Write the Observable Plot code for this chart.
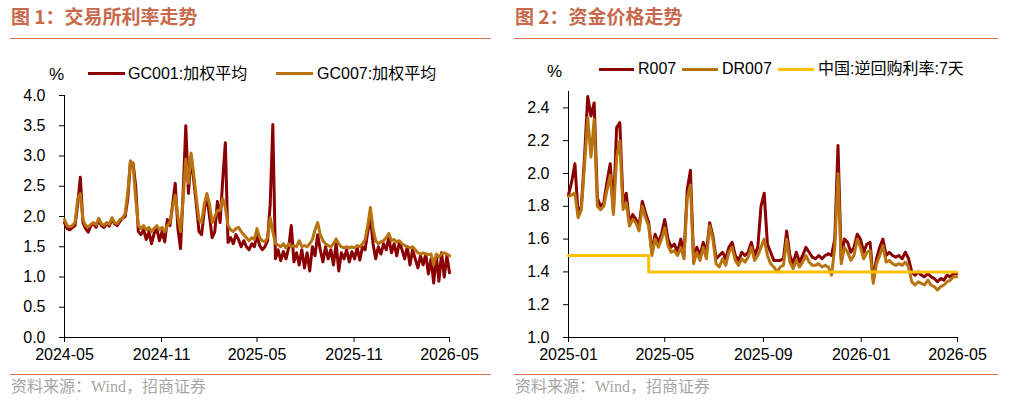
<!DOCTYPE html>
<html><head><meta charset="utf-8">
<script src="https://cdn.jsdelivr.net/npm/d3@7"></script>
<script src="https://cdn.jsdelivr.net/npm/@observablehq/plot@0.6"></script>
<style>
body{margin:0;width:1009px;height:404px;position:relative;background:#fff;overflow:hidden;font-family:"Liberation Sans","Noto Sans CJK SC",sans-serif;}
.abs{position:absolute;white-space:nowrap;}
.title{font-family:"Noto Sans CJK SC",sans-serif;font-weight:bold;font-size:19px;color:#C8694B;line-height:22px;}
.rule{position:absolute;height:1px;background:#D4775A;}
.src{font-family:"Liberation Serif","Noto Sans CJK SC",serif;font-size:16px;color:#A6A6A6;line-height:18px;}
.leg{font-size:16px;line-height:20px;color:#000;font-family:"Liberation Sans","Noto Sans CJK SC",sans-serif;}
.pct{font-size:17px;line-height:20px;color:#000;}
</style>
</head><body>
<div id="root"></div>
<script>
// ---------- Data ----------
// Chart 1: exchange repo rates, sampled every 5 days from 2024-05-01
const gcStart = "2024-05-01";
const gcStepDays = 5;
const gc001 = [
1.9,1.8,1.78,1.82,1.85,2.2,2.65,1.9,1.8,1.74,
1.85,1.88,1.82,1.95,1.85,1.82,1.88,1.84,1.95,1.88,
1.85,1.92,1.97,2.0,2.3,2.9,2.88,2.5,1.75,1.7,
1.78,1.62,1.75,1.55,1.72,1.8,1.6,1.75,1.58,1.95,
1.85,2.2,2.55,1.8,1.47,2.4,3.5,2.38,3.0,2.6,
2.2,1.75,1.7,2.1,2.35,2.0,1.65,1.75,2.25,1.9,
2.6,3.22,1.57,1.65,1.55,1.7,1.62,1.5,1.6,1.5,
1.45,1.55,1.5,1.7,1.52,1.45,1.5,1.6,2.2,3.52,
1.3,1.45,1.27,1.42,1.3,1.48,1.85,1.25,1.4,1.2,
1.45,1.15,1.4,1.1,1.5,1.35,1.7,1.45,1.25,1.5,
1.3,1.45,1.2,1.55,1.1,1.4,1.3,1.45,1.25,1.42,
1.3,1.48,1.28,1.5,1.45,1.75,2.0,1.55,1.3,1.5,
1.38,1.55,1.45,1.65,1.4,1.55,1.35,1.58,1.45,1.3,
1.5,1.2,1.45,1.3,1.15,1.35,1.2,1.38,1.05,1.3,
0.9,1.35,0.93,1.4,1.0,1.35,1.07
];
const gc007 = [
1.95,1.85,1.83,1.85,1.9,2.3,2.38,1.95,1.85,1.83,
1.87,1.9,1.86,1.97,1.88,1.85,1.9,1.87,1.98,1.9,
1.88,1.95,1.97,2.05,2.4,2.92,2.85,2.3,1.85,1.8,
1.85,1.78,1.82,1.75,1.8,1.85,1.78,1.82,1.75,1.85,
1.9,2.15,2.35,2.0,1.75,2.3,2.95,2.55,3.05,2.7,
2.3,1.95,1.9,2.2,2.38,2.2,1.9,2.0,2.1,2.1,
2.3,2.15,1.85,1.78,1.75,1.8,1.82,1.75,1.7,1.65,
1.6,1.65,1.62,1.8,1.65,1.6,1.58,1.65,1.98,1.75,
1.55,1.53,1.5,1.55,1.48,1.55,1.5,1.52,1.5,1.6,
1.5,1.52,1.5,1.55,1.62,1.78,1.9,1.7,1.6,1.55,
1.52,1.5,1.55,1.63,1.55,1.5,1.48,1.5,1.48,1.5,
1.48,1.52,1.5,1.55,1.62,1.85,2.15,1.8,1.6,1.55,
1.58,1.6,1.65,1.72,1.6,1.62,1.58,1.6,1.55,1.52,
1.5,1.48,1.5,1.45,1.4,1.38,1.4,1.38,1.37,1.38,
1.2,1.38,1.33,1.38,1.4,1.38,1.35
];
const gcTicks = ["2024-05","2024-11","2025-05","2025-11","2026-05"];
const gcYTicks = [0,0.5,1,1.5,2,2.5,3,3.5,4];

// Chart 2: money market rates, sampled every 4 days from 2025-01-01
const rStart = "2025-01-01";
const rStepDays = 4;
const r007 = [
1.87,1.95,2.06,1.75,1.8,2.1,2.47,2.35,2.43,1.85,
1.8,1.82,1.95,2.06,1.77,2.28,2.31,1.82,1.88,1.7,
1.75,1.72,1.68,1.83,1.76,1.7,1.52,1.63,1.58,1.63,
1.72,1.6,1.55,1.57,1.52,1.6,1.5,1.9,2.02,1.47,
1.55,1.5,1.58,1.52,1.7,1.62,1.48,1.5,1.52,1.48,
1.55,1.58,1.5,1.47,1.52,1.5,1.52,1.58,1.5,1.55,
1.8,1.88,1.57,1.52,1.47,1.47,1.47,1.48,1.65,1.5,
1.45,1.52,1.46,1.5,1.55,1.52,1.49,1.48,1.5,1.48,
1.5,1.51,1.5,1.6,2.17,1.48,1.6,1.58,1.52,1.55,
1.63,1.6,1.52,1.57,1.58,1.35,1.48,1.55,1.6,1.5,
1.52,1.5,1.49,1.5,1.48,1.52,1.48,1.4,1.38,1.4,
1.38,1.37,1.39,1.37,1.36,1.34,1.36,1.35,1.38,1.37,
1.39,1.39
];
const dr007 = [
1.86,1.87,1.88,1.73,1.78,2.05,2.34,2.1,2.33,1.8,
1.78,1.8,1.9,1.99,1.75,2.1,2.2,1.78,1.82,1.68,
1.72,1.7,1.65,1.8,1.73,1.68,1.5,1.6,1.55,1.6,
1.67,1.56,1.52,1.53,1.5,1.55,1.48,1.85,1.93,1.45,
1.52,1.47,1.55,1.48,1.68,1.6,1.45,1.43,1.48,1.44,
1.52,1.55,1.47,1.44,1.48,1.46,1.49,1.55,1.47,1.5,
1.55,1.6,1.5,1.45,1.43,1.4,1.43,1.44,1.6,1.46,
1.42,1.47,1.43,1.46,1.5,1.46,1.44,1.44,1.45,1.43,
1.44,1.43,1.38,1.55,2.0,1.45,1.55,1.52,1.47,1.5,
1.6,1.55,1.48,1.52,1.53,1.33,1.45,1.5,1.56,1.46,
1.47,1.45,1.44,1.45,1.44,1.46,1.43,1.34,1.32,1.34,
1.33,1.32,1.35,1.32,1.31,1.29,1.31,1.32,1.34,1.35,
1.37,1.37
];
const repoDates = ["2025-01-01","2025-04-11","2026-04-30"];
const repo7d = [1.5,1.4,1.4];
const rTicks = ["2025-01","2025-05","2025-09","2026-01","2026-05"];
const rYTicks = [1.0,1.2,1.4,1.6,1.8,2.0,2.2,2.4];

// ---------- Helpers ----------
const parseDay = d3.utcParse("%Y-%m-%d");
const parseMonth = d3.utcParse("%Y-%m");
const fmtMonth = d3.utcFormat("%Y-%m");
function series(startStr, step, values) {
  const s = parseDay(startStr);
  return values.map((v, i) => ({date: d3.utcDay.offset(s, i * step), value: v}));
}
const C_RED = "#8B0000", C_ORANGE = "#B8720E", C_YELLOW = "#FFC000";
function el(cls, x, y, html, extra) {
  const d = document.createElement("div");
  d.className = "abs " + cls;
  d.style.left = x + "px"; d.style.top = y + "px";
  d.innerHTML = html;
  if (extra) Object.assign(d.style, extra);
  document.body.appendChild(d);
  return d;
}
function rule(x1, x2, y) {
  const d = document.createElement("div");
  d.className = "rule";
  d.style.left = x1 + "px"; d.style.top = y + "px"; d.style.width = (x2 - x1) + "px";
  document.body.appendChild(d);
}
function legendLine(x, y, w, color) {
  el("", x, y - 1.5, "", {width: w + "px", height: "3px", background: color});
}

// ---------- Page furniture ----------
el("title", 11, 5, "图 1：交易所利率走势");
el("title", 515, 5, "图 2：资金价格走势");
rule(10, 491, 38); rule(514, 998, 38);
rule(10, 491, 374); rule(514, 998, 374);
el("src", 11, 378, "资料来源：Wind，招商证券");
el("src", 515, 378, "资料来源：Wind，招商证券");

el("pct", 49, 65, "%");
legendLine(88, 73, 37, C_RED);   el("leg", 128, 64, "GC001:加权平均");
legendLine(276, 73, 37, C_ORANGE); el("leg", 317, 64, "GC007:加权平均");

el("pct", 547, 62, "%");
legendLine(599, 69, 35, C_RED);    el("leg", 638, 59, "R007");
legendLine(682, 69, 36, C_ORANGE); el("leg", 722, 59, "DR007");
legendLine(778, 69, 36, C_YELLOW); el("leg", 818, 59, "中国:逆回购利率:7天");

// ---------- Charts ----------
const common = {
  style: {fontFamily: "Liberation Sans, sans-serif", fontSize: "16px", color: "#000", background: "transparent", overflow: "visible"}
};

const g1 = series(gcStart, gcStepDays, gc001);
const g7 = series(gcStart, gcStepDays, gc007);
const x1Domain = [parseMonth(gcTicks[0]), parseMonth(gcTicks[gcTicks.length - 1])];
const chart1 = Plot.plot({
  ...common,
  width: 500, height: 285,
  marginLeft: 64, marginRight: 51, marginTop: 10, marginBottom: 33,
  x: {type: "utc", domain: x1Domain},
  y: {domain: [0, 4]},
  marks: [
    Plot.axisY({ticks: gcYTicks, tickSize: 5, tickPadding: 14, tickFormat: d => d.toFixed(1), label: null}),
    Plot.axisX({ticks: gcTicks.map(parseMonth), tickSize: 5, tickPadding: 6, tickFormat: fmtMonth, label: null}),
    Plot.ruleX([x1Domain[0]], {stroke: "#000"}),
    Plot.ruleY([0], {stroke: "#000"}),
    Plot.line(g1, {x: "date", y: "value", stroke: C_RED, strokeWidth: 3, strokeLinejoin: "round"}),
    Plot.line(g7, {x: "date", y: "value", stroke: C_ORANGE, strokeWidth: 3, strokeLinejoin: "round"})
  ]
});
const w1 = document.createElement("div");
w1.className = "abs"; w1.style.left = "0px"; w1.style.top = "85px";
w1.appendChild(chart1); document.body.appendChild(w1);

const rr = series(rStart, rStepDays, r007);
const dr = series(rStart, rStepDays, dr007);
const repo = repoDates.map((d, i) => ({date: parseDay(d), value: repo7d[i]}));
const x2Domain = [parseMonth(rTicks[0]), parseMonth(rTicks[rTicks.length - 1])];
const chart2 = Plot.plot({
  ...common,
  width: 504, height: 285,
  marginLeft: 63, marginRight: 52, marginTop: 6, marginBottom: 33,
  x: {type: "utc", domain: x2Domain},
  y: {domain: [1.0, 2.5]},
  marks: [
    Plot.axisY({ticks: rYTicks, tickSize: 5, tickPadding: 14, tickFormat: d => d.toFixed(1), label: null}),
    Plot.axisX({ticks: rTicks.map(parseMonth), tickSize: 5, tickPadding: 6, tickFormat: fmtMonth, label: null}),
    Plot.ruleX([x2Domain[0]], {stroke: "#000"}),
    Plot.ruleY([1.0], {stroke: "#000"}),
    Plot.line(rr, {x: "date", y: "value", stroke: C_RED, strokeWidth: 3, strokeLinejoin: "round"}),
    Plot.line(dr, {x: "date", y: "value", stroke: C_ORANGE, strokeWidth: 3, strokeLinejoin: "round"}),
    Plot.line(repo, {x: "date", y: "value", stroke: C_YELLOW, strokeWidth: 3, curve: "step-after"})
  ]
});
const w2 = document.createElement("div");
w2.className = "abs"; w2.style.left = "505px"; w2.style.top = "85px";
w2.appendChild(chart2); document.body.appendChild(w2);
</script>
</body></html>
